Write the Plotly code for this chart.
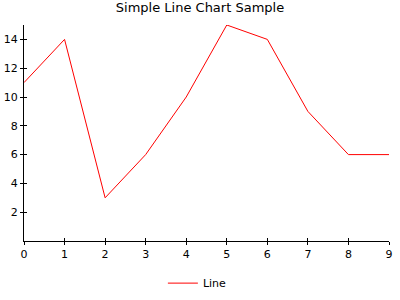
import plotly.graph_objects as go

x_values = [0, 1, 2, 3, 4, 5, 6, 7, 8, 9]
y_values = [11, 14, 3, 6, 10, 15, 14, 9, 6, 6]
series_name = "Line"
chart_title = "Simple Line Chart Sample"
y_ticks = [2, 4, 6, 8, 10, 12, 14]

font_family = "DejaVu Sans, Verdana, sans-serif"

fig = go.Figure()
fig.add_trace(go.Scatter(x=x_values, y=y_values, mode="lines", name=series_name,
                         line=dict(color="#ff0000", width=1)))
# invisible trace for inner tick marks axis
fig.add_trace(go.Scatter(x=x_values, y=y_values, mode="lines", showlegend=False,
                         line=dict(color="rgba(0,0,0,0)", width=0), xaxis="x2", yaxis="y2",
                         hoverinfo="skip"))

fig.update_layout(
    width=400, height=300,
    margin=dict(l=24, r=11, t=25, b=59, autoexpand=False),
    paper_bgcolor="white", plot_bgcolor="white",
    font=dict(family=font_family, size=11, color="#000000"),
    title=dict(text=chart_title, x=0.5, xanchor="center", y=0.975, yanchor="middle",
               font=dict(family=font_family, size=13, color="#000000")),
    showlegend=True,
    legend=dict(orientation="h", x=0.475, xanchor="center", y=-0.195, yanchor="middle",
                font=dict(family=font_family, size=11, color="#000000"),
                bgcolor="rgba(0,0,0,0)", itemwidth=30),
    xaxis=dict(range=[0, 9], tickvals=x_values, showgrid=False, zeroline=False,
               showline=True, linecolor="#000000", linewidth=1, automargin=False,
               ticks="outside", ticklen=3, tickcolor="#000000", tickwidth=1,
               tickfont=dict(size=11, color="#000000")),
    yaxis=dict(range=[0, 15], tickvals=y_ticks, showgrid=False, zeroline=False,
               showline=True, linecolor="#000000", linewidth=1, automargin=False,
               ticks="outside", ticklen=3, tickcolor="#000000", tickwidth=1,
               tickfont=dict(size=11, color="#000000")),
    xaxis2=dict(range=[0, 9], tickvals=x_values, overlaying="x", showgrid=False,
                zeroline=False, showticklabels=False, ticks="inside", ticklen=3,
                tickcolor="#000000", anchor="y2", side="bottom", automargin=False),
    yaxis2=dict(range=[0, 15], tickvals=y_ticks, overlaying="y", showgrid=False,
                zeroline=False, showticklabels=False, ticks="inside", ticklen=3,
                tickcolor="#000000", anchor="x2", side="left", automargin=False),
)

fig.write_html("out.html")
